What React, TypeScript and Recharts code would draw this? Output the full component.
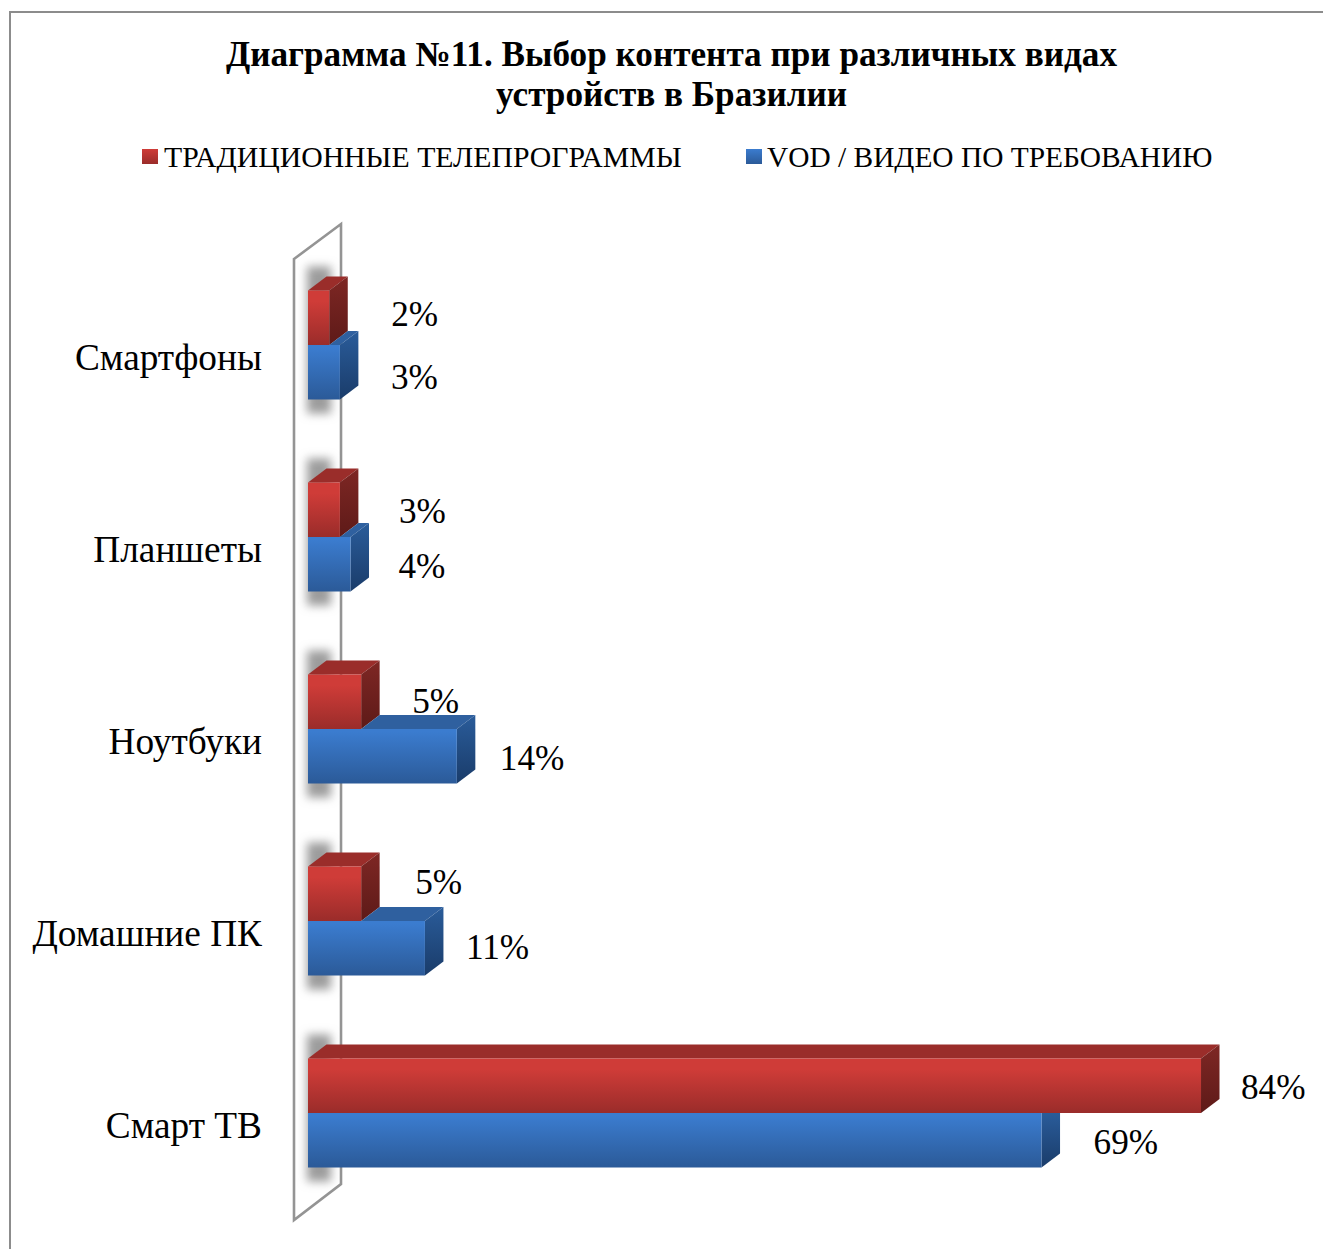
import React from "react";
import { BarChart, Bar, XAxis, YAxis, Legend, LabelList } from "recharts";

const categories = ["Смартфоны", "Планшеты", "Ноутбуки", "Домашние ПК", "Смарт ТВ"];
const traditionalValues = [2, 3, 5, 5, 84];
const vodValues = [3, 4, 14, 11, 69];
const seriesNames = ["ТРАДИЦИОННЫЕ ТЕЛЕПРОГРАММЫ", "VOD / ВИДЕО ПО ТРЕБОВАНИЮ"];
const titleLines = ["Диаграмма №11. Выбор контента при различных видах", "устройств в Бразилии"];

const redLabelNudge = [[62, 8], [59, 13], [51, 11], [54, 0], [40, 13]];
const blueLabelNudge = [[51, 16.5], [48, 13.5], [43, 13.5], [41, 10.5], [52, 13.5]];

const table = categories.map((name, i) => ({ name, red: traditionalValues[i], blue: vodValues[i] }));

const SERIF = "'Liberation Serif', 'Times New Roman', serif";
const DX = 18.5;
const DY = 14;

const RedShape = (p: any) => {
  const { x, y, width, height } = p;
  const r = x + width;
  const b = y + height;
  return (
    <g>
      <rect x={x - 1} y={y - 24} width={24} height={height * 2 + 38} fill="#9c9c9c" filter="url(#wallShadow)" />
      <polygon points={`${x},${y} ${x + DX},${y - DY} ${r + DX},${y - DY} ${r},${y}`} fill="#9A2D2A" />
      <polygon points={`${r},${y} ${r + DX},${y - DY} ${r + DX},${b - DY} ${r},${b}`} fill="url(#redSide)" />
      <rect x={x} y={y} width={width} height={height} fill="url(#redFront)" />
    </g>
  );
};

const BlueShape = (p: any) => {
  const { x, y, width, height, value, payload } = p;
  const r = x + width;
  const b = y + height;
  const redEnd = x + (payload.red * width) / value;
  const longer = r > redEnd;
  return (
    <g>
      {longer && (
        <polygon points={`${redEnd},${y} ${redEnd + DX},${y - DY} ${r + DX},${y - DY} ${r},${y}`} fill="#2F609F" />
      )}
      <polygon
        points={
          longer
            ? `${r},${y} ${r + DX},${y - DY} ${r + DX},${b - DY} ${r},${b}`
            : `${r},${y} ${r + DX},${y} ${r + DX},${b - DY} ${r},${b}`
        }
        fill="url(#blueSide)"
      />
      <rect x={x} y={y} width={width} height={height} fill="url(#blueFront)" />
    </g>
  );
};

const makeLabel = (nudge: number[][]) => (p: any) => {
  const { x, y, width, height, value, index } = p;
  return (
    <text
      x={x + width + nudge[index][0]}
      y={y + height / 2 + nudge[index][1]}
      fontFamily={SERIF}
      fontSize={35.2}
      fill="#000"
    >
      {value}%
    </text>
  );
};

const LegendContent = () => (
  <div style={{ position: "relative", width: 1323, height: 40, fontFamily: SERIF, color: "#000", lineHeight: "40px" }}>
    <span style={{ position: "absolute", left: 142, top: 12, width: 16, height: 15, background: "linear-gradient(#CF3C38,#9A2C2A)" }} />
    <span style={{ position: "absolute", left: 164, top: 0, fontSize: 29.75, whiteSpace: "nowrap" }}>{seriesNames[0]}</span>
    <span style={{ position: "absolute", left: 746, top: 12, width: 16, height: 15, background: "linear-gradient(#3B7CCF,#2B5A98)" }} />
    <span style={{ position: "absolute", left: 767, top: 0, fontSize: 29.4, whiteSpace: "nowrap" }}>{seriesNames[1]}</span>
  </div>
);

export default function App() {
  return (
    <div style={{ position: "absolute", left: 0, top: 0, width: 1323, height: 1249, background: "#fff", overflow: "hidden" }}>
      <div style={{ position: "absolute", left: 9, top: 11, right: 0, bottom: 0, borderLeft: "2px solid #8c8c8c", borderTop: "2px solid #8c8c8c" }} />
      <div style={{ position: "absolute", left: 0, top: 0 }}>
        <BarChart
          width={1323}
          height={1249}
          data={table}
          layout="vertical"
          margin={{ top: 208.5, right: 58.2, bottom: 40.5, left: 0 }}
          barGap={0}
          barSize={54.5}
        >
          <defs>
            <linearGradient id="redFront" x1="0" y1="0" x2="0" y2="1">
              <stop offset="0.2" stopColor="#CF3C38" />
              <stop offset="1" stopColor="#9A2C2A" />
            </linearGradient>
            <linearGradient id="blueFront" x1="0" y1="0" x2="0" y2="1">
              <stop offset="0.05" stopColor="#3B7CCF" />
              <stop offset="1" stopColor="#2B5A98" />
            </linearGradient>
            <linearGradient id="redSide" x1="0" y1="0" x2="0" y2="1">
              <stop offset="0" stopColor="#7E2724" />
              <stop offset="1" stopColor="#5E1A18" />
            </linearGradient>
            <linearGradient id="blueSide" x1="0" y1="0" x2="0" y2="1">
              <stop offset="0" stopColor="#2A5C9A" />
              <stop offset="1" stopColor="#1A3C6A" />
            </linearGradient>
            <filter id="wallShadow" x="-80%" y="-20%" width="260%" height="140%">
              <feGaussianBlur stdDeviation="5" />
            </filter>
          </defs>
          <polygon points="294,259 341,224 341,1184 294,1220" fill="#fff" stroke="#949494" strokeWidth={2.6} />
          <text textAnchor="middle" fontFamily={SERIF} fontWeight="bold" fontSize={35.2} fill="#000">
            <tspan x={671.5} y={66}>{titleLines[0]}</tspan>
            <tspan x={671.5} y={106}>{titleLines[1]}</tspan>
          </text>
          <XAxis type="number" domain={[0, 90]} hide />
          <YAxis
            type="category"
            dataKey="name"
            width={308}
            axisLine={false}
            tickLine={false}
            tickSize={0}
            tickMargin={46}
            interval={0}
            tick={{ fill: "#000", fontSize: 37.3, fontFamily: SERIF, dy: 12 }}
          />
          <Legend
            verticalAlign="top"
            wrapperStyle={{ position: "absolute", left: 0, top: 137, width: 1323, height: 40 }}
            content={<LegendContent />}
          />
          <Bar dataKey="red" name={seriesNames[0]} isAnimationActive={false} shape={RedShape}>
            <LabelList dataKey="red" content={makeLabel(redLabelNudge)} />
          </Bar>
          <Bar dataKey="blue" name={seriesNames[1]} isAnimationActive={false} shape={BlueShape}>
            <LabelList dataKey="blue" content={makeLabel(blueLabelNudge)} />
          </Bar>
        </BarChart>
      </div>
    </div>
  );
}
